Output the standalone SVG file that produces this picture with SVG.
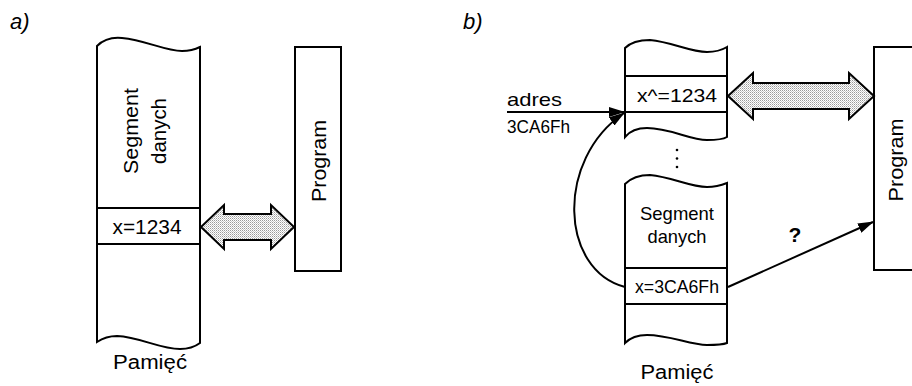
<svg xmlns="http://www.w3.org/2000/svg" width="912" height="386" viewBox="0 0 912 386">
<style>
  .ln{fill:none;stroke:#000;stroke-width:2}
  .col{fill:#fff;stroke:#000;stroke-width:2;stroke-linejoin:miter}
  .box{fill:#fff;stroke:#000;stroke-width:2}
  .dbl{fill:url(#dots);stroke:#000;stroke-width:2;stroke-linejoin:miter}
  text{font-family:"Liberation Sans",Arial,sans-serif;fill:#000}
  .t{font-size:19px}
  .ta{font-size:20.5px}
  .lab{font-size:22px;font-style:italic}
  .pm{font-size:20px}
</style>
<defs>
  <pattern id="dots" width="2" height="2" patternUnits="userSpaceOnUse">
    <rect width="2" height="2" fill="#ffffff"/>
    <rect width="1" height="1" fill="#9a9a9a"/>
    <rect x="1" y="1" width="1" height="1" fill="#c8c8c8"/>
  </pattern>
  <marker id="ah" viewBox="0 0 16 10" refX="15" refY="5" markerWidth="16" markerHeight="10" markerUnits="userSpaceOnUse" orient="auto">
    <path d="M0,0 L16,5 L0,10 Z" fill="#000"/>
  </marker>
</defs>

<text class="lab" x="10" y="29">a)</text>
<text class="lab" x="463" y="29">b)</text>

<!-- Panel a -->
<g id="mem-a">
  <path class="col" d="M97,46 C103,40 112,37 122,38 C145,40 165,51 182,51 C190,51 196,49 200,47 L200,343 C196,346 190,349 180,349 C160,349 140,337 117,336 C110,336 103,338 97,342 Z"/>
  <line class="ln" x1="97" y1="208" x2="200" y2="208"/>
  <line class="ln" x1="97" y1="244" x2="200" y2="244"/>
  <text class="ta" transform="translate(138,131) rotate(-90)" text-anchor="middle" textLength="86" lengthAdjust="spacingAndGlyphs">Segment</text>
  <text class="ta" transform="translate(166,131) rotate(-90)" text-anchor="middle" textLength="66" lengthAdjust="spacingAndGlyphs">danych</text>
  <text class="ta" x="147" y="234" text-anchor="middle" textLength="69" lengthAdjust="spacingAndGlyphs">x=1234</text>
  <text class="pm" x="150" y="369" text-anchor="middle" textLength="74" lengthAdjust="spacingAndGlyphs">Pamięć</text>
</g>
<g id="prog-a">
  <rect class="box" x="295" y="47" width="46" height="224"/>
  <text class="ta" transform="translate(326,161) rotate(-90)" text-anchor="middle" textLength="82" lengthAdjust="spacingAndGlyphs">Program</text>
</g>

<!-- Panel b -->
<g id="mem-b-top">
  <path class="col" d="M625,48 C631,42 640,40 650,40 C672,42 690,52 707,52 C716,52 722,50 727,47 L727,137 C722,140 715,140 707,140 C690,140 670,128 647,128 C638,128 630,131 625,137 Z"/>
  <line class="ln" x1="625" y1="76" x2="727" y2="76"/>
  <line class="ln" x1="625" y1="112" x2="727" y2="112"/>
  <text class="t" x="677" y="102" text-anchor="middle" textLength="80" lengthAdjust="spacingAndGlyphs">x^=1234</text>
</g>
<g id="dots-b">
  <circle cx="677" cy="150" r="1.3" fill="#000"/>
  <circle cx="677" cy="158.5" r="1.3" fill="#000"/>
  <circle cx="677" cy="167" r="1.3" fill="#000"/>
</g>
<g id="mem-b-bottom">
  <path class="col" d="M625,184 C631,178 640,175 650,175 C672,177 690,187 707,187 C716,187 722,185 727,183 L727,343 C722,345 715,345 707,345 C690,345 670,335 647,335 C638,335 630,338 625,343 Z"/>
  <line class="ln" x1="625" y1="268" x2="727" y2="268"/>
  <line class="ln" x1="625" y1="304" x2="727" y2="304"/>
  <text class="t" x="677" y="220" text-anchor="middle" textLength="74" lengthAdjust="spacingAndGlyphs">Segment</text>
  <text class="t" x="677" y="243" text-anchor="middle" textLength="59" lengthAdjust="spacingAndGlyphs">danych</text>
  <text class="t" x="677" y="293" text-anchor="middle" textLength="84" lengthAdjust="spacingAndGlyphs">x=3CA6Fh</text>
  <text class="pm" x="677" y="379" text-anchor="middle" textLength="73" lengthAdjust="spacingAndGlyphs">Pamięć</text>
</g>
<g id="prog-b">
  <rect class="box" x="874" y="47" width="50" height="223"/>
  <text class="ta" transform="translate(903,160) rotate(-90)" text-anchor="middle" textLength="83" lengthAdjust="spacingAndGlyphs">Program</text>
</g>
<g id="adres-label">
  <text class="t" x="507" y="106" textLength="55" lengthAdjust="spacingAndGlyphs">adres</text>
  <text class="t" x="507" y="133" textLength="63" lengthAdjust="spacingAndGlyphs">3CA6Fh</text>
</g>

<g id="connectors">
  <polygon class="dbl" points="201,227 224,205 224,214 271,214 271,205 294,227 271,249 271,240 224,240 224,249"/>
  <polygon class="dbl" points="728,96 753,73 753,83 849,83 849,73 874,96 849,119 849,109 753,109 753,119"/>
  <line class="ln" x1="507" y1="112" x2="624" y2="112" marker-end="url(#ah)"/>
  <path class="ln" d="M625,287 C560,270 555,160 624,113" marker-end="url(#ah)"/>
  <line class="ln" x1="728" y1="287" x2="873" y2="222" marker-end="url(#ah)"/>
  <text x="795" y="242" text-anchor="middle" style="font-size:21px;font-weight:bold">?</text>
</g>
</svg>
